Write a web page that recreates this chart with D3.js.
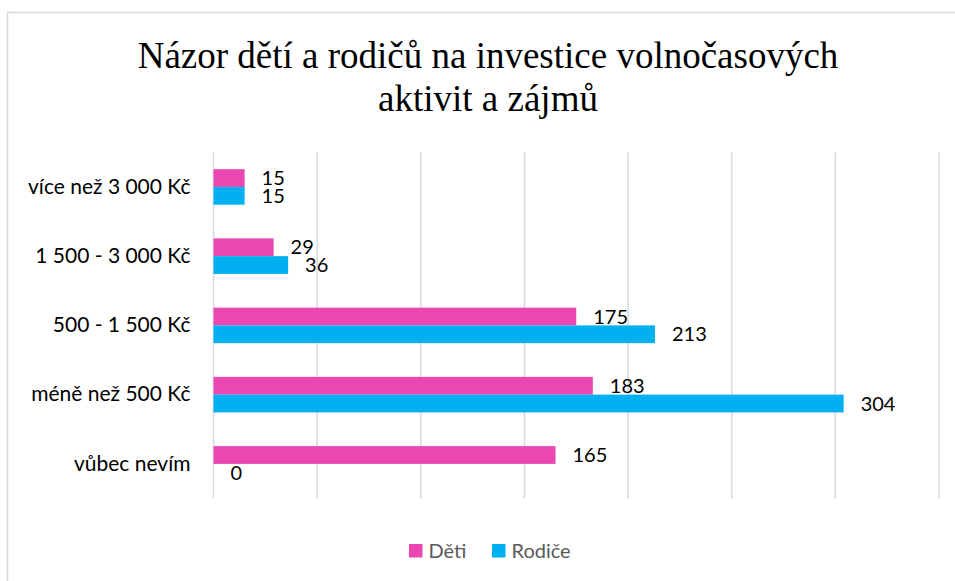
<!DOCTYPE html>
<html><head><meta charset="utf-8">
<script src="https://cdn.jsdelivr.net/npm/d3@7"></script>
<style>html,body{margin:0;padding:0;background:#fff;overflow:hidden}</style>
</head><body>
<svg id="chart" width="955" height="581"></svg>
<script>
const categories = ["více než 3 000 Kč", "1 500 - 3 000 Kč", "500 - 1 500 Kč", "méně než 500 Kč", "vůbec nevím"];
const seriesNames = ["Děti", "Rodiče"];
const detiValues = [15, 29, 175, 183, 165];
const rodiceValues = [15, 36, 213, 304, 0];
const seriesColors = ["#EA47B3", "#00B0F0"];
const xTicks = [0, 50, 100, 150, 200, 250, 300, 350];
const titleLines = ["Názor dětí a rodičů na investice volnočasových", "aktivit a zájmů"];

const svg = d3.select("#chart");
const labelFont = "Lato, 'Open Sans', sans-serif";

// chart border
svg.append("rect").attr("x", 7.5).attr("y", 12.5).attr("width", 960).attr("height", 600)
  .attr("fill", "#fff").attr("stroke", "#d9d9d9").attr("stroke-width", 1.5);

// title
const title = svg.append("text").attr("text-anchor", "middle")
  .attr("font-family", "'Liberation Serif', 'Times New Roman', serif")
  .attr("font-size", 37).attr("fill", "#000");
titleLines.forEach((t, i) => {
  title.append("tspan").attr("x", 488).attr("y", 68 + i * 43).text(t);
});

const x = d3.scaleLinear().domain([0, 350]).range([213.5, 939]);
const y = d3.scaleBand().domain(categories).range([152.3, 498.5]).paddingInner(0.487).paddingOuter(0.2435);
const ySub = d3.scaleBand().domain(seriesNames).range([0, y.bandwidth()]);

// gridlines
svg.append("g").selectAll("line").data(xTicks).join("line")
  .attr("x1", d => x(d)).attr("x2", d => x(d))
  .attr("y1", 152.3).attr("y2", 498.5)
  .attr("stroke", "#d9d9d9").attr("stroke-width", 1.5);

// category axis labels
const yAxis = d3.axisLeft(y).tickSize(0).tickPadding(23);
const ya = svg.append("g").attr("transform", `translate(${x(0)},0)`).call(yAxis);
ya.select(".domain").remove();
ya.selectAll("text").attr("font-family", labelFont).attr("font-size", 21).attr("fill", "#000");

const data = [];
categories.forEach((c, i) => {
  data.push({cat: c, s: seriesNames[0], v: detiValues[i], col: seriesColors[0]});
  data.push({cat: c, s: seriesNames[1], v: rodiceValues[i], col: seriesColors[1]});
});

svg.append("g").selectAll("rect").data(data).join("rect")
  .attr("x", x(0))
  .attr("y", d => y(d.cat) + ySub(d.s))
  .attr("width", d => x(d.v) - x(0))
  .attr("height", ySub.bandwidth())
  .attr("fill", d => d.col);

svg.append("g").selectAll("text").data(data).join("text")
  .attr("x", d => x(d.v) + 17)
  .attr("y", d => y(d.cat) + ySub(d.s) + ySub.bandwidth() / 2)
  .attr("dy", "0.36em")
  .attr("font-family", labelFont).attr("font-size", 20).attr("fill", "#000")
  .text(d => d.v);

// legend
const legendX = [409, 492];
const lg = svg.append("g");
seriesNames.forEach((n, i) => {
  lg.append("rect").attr("x", legendX[i]).attr("y", 544).attr("width", 13.5).attr("height", 13.5).attr("fill", seriesColors[i]);
  lg.append("text").attr("x", legendX[i] + 19.5).attr("y", 551).attr("dy", "0.36em")
    .attr("font-family", labelFont).attr("font-size", 20).attr("fill", "#595959").text(n);
});
</script>
</body></html>
